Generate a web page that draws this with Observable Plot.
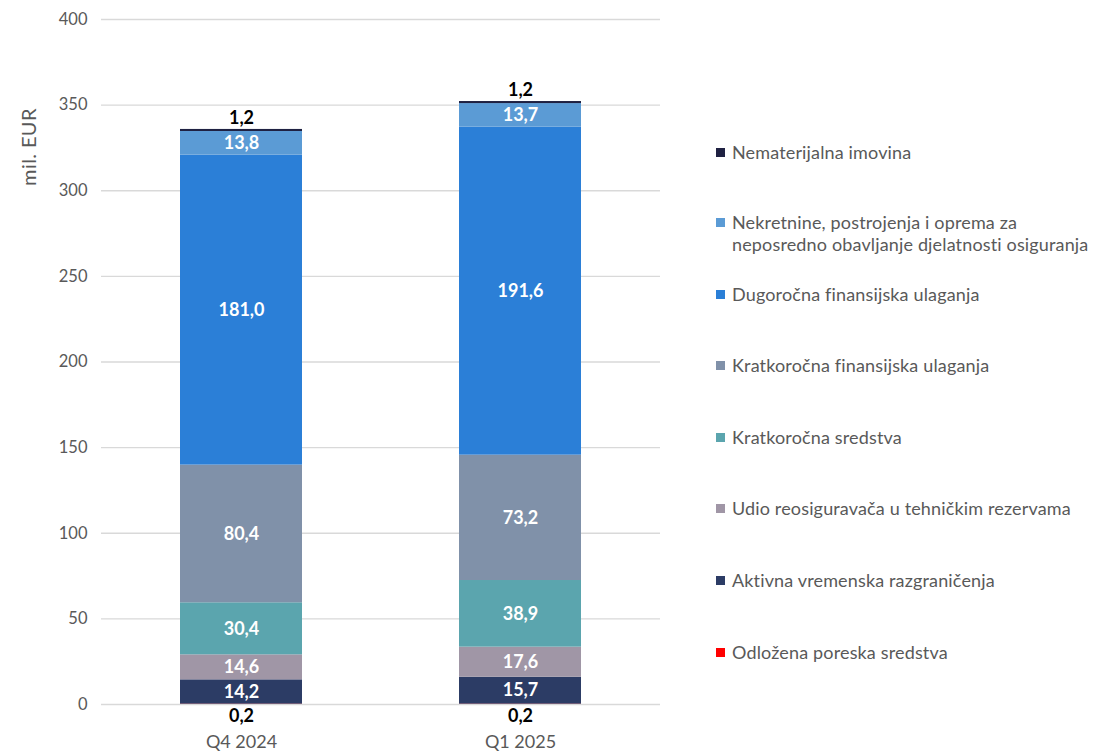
<!DOCTYPE html>
<html>
<head>
<meta charset="utf-8">
<script src="https://cdn.jsdelivr.net/npm/d3@7"></script>
<script src="https://cdn.jsdelivr.net/npm/@observablehq/plot@0.6"></script>
<style>
  html, body { margin: 0; padding: 0; background: #fff; }
  body { width: 1101px; height: 753px; position: relative; overflow: hidden; font-family: Lato, "Open Sans", sans-serif; }
  #chart { position: absolute; left: 0; top: 0; }
  #ylabel { position: absolute; left: 28px; top: 147px; transform: translate(-50%, -50%) rotate(-90deg); color: #595959; font-size: 20px; letter-spacing: 0.4px; white-space: nowrap; }
  #legend { position: absolute; left: 716px; top: 0; }
  .item { position: absolute; left: 0; display: flex; align-items: flex-start; color: #595959; font-size: 18px; letter-spacing: 0.15px; line-height: 22px; white-space: nowrap; }
  .sw { width: 9px; height: 9px; margin-top: 7px; margin-right: 7px; flex: none; }
</style>
</head>
<body>
<div id="chart"></div>
<div id="ylabel">mil. EUR</div>
<div id="legend"></div>
<script>
const quarters = ["Q4 2024", "Q1 2025"];
// bottom to top
const seriesNames = [
  "Odložena poreska sredstva",
  "Aktivna vremenska razgraničenja",
  "Udio reosiguravača u tehničkim rezervama",
  "Kratkoročna sredstva",
  "Kratkoročna finansijska ulaganja",
  "Dugoročna finansijska ulaganja",
  "Nekretnine, postrojenja i oprema za neposredno obavljanje djelatnosti osiguranja",
  "Nematerijalna imovina"
];
const seriesColors = ["#ff0000", "#2c3c65", "#a096a6", "#5ba5ae", "#8091a9", "#2b7fd7", "#5b9bd5", "#1f2142"];
const valuesQ4 = [0.2, 14.2, 14.6, 30.4, 80.4, 181.0, 13.8, 1.2];
const valuesQ1 = [0.2, 15.7, 17.6, 38.9, 73.2, 191.6, 13.7, 1.2];
const yTicks = [0, 50, 100, 150, 200, 250, 300, 350, 400];
const legendLines = [
  ["Nematerijalna imovina"],
  ["Nekretnine, postrojenja i oprema za", "neposredno obavljanje djelatnosti osiguranja"],
  ["Dugoročna finansijska ulaganja"],
  ["Kratkoročna finansijska ulaganja"],
  ["Kratkoročna sredstva"],
  ["Udio reosiguravača u tehničkim rezervama"],
  ["Aktivna vremenska razgraničenja"],
  ["Odložena poreska sredstva"]
];

const rows = [];
[valuesQ4, valuesQ1].forEach((vals, qi) => {
  vals.forEach((v, si) => rows.push({quarter: quarters[qi], series: seriesNames[si], value: v}));
});
const fmt = v => v.toFixed(1).replace(".", ",");
const topName = seriesNames[seriesNames.length - 1];
const bottomName = seriesNames[0];

const chart = Plot.plot({
  width: 680,
  height: 753,
  marginLeft: 101,
  marginRight: 20,
  marginTop: 19,
  marginBottom: 49,
  style: {fontFamily: "Lato, 'Open Sans', sans-serif", fontSize: "16.5px", color: "#595959", background: "transparent"},
  x: {domain: quarters, paddingInner: 0.563, paddingOuter: 0.28, label: null},
  y: {domain: [0, 400], ticks: yTicks, label: null, tickSize: 0, tickPadding: 14},
  color: {domain: seriesNames, range: seriesColors},
  marks: [
    Plot.gridY(yTicks, {stroke: "#d9d9d9", strokeOpacity: 1, strokeWidth: 1.3}),
    Plot.axisX({tickSize: 0, tickPadding: 31, fontSize: 18, label: null}),
    Plot.barY(rows, {x: "quarter", y: "value", fill: "series", order: seriesNames}),
    Plot.text(rows, Plot.stackY({x: "quarter", y: "value", z: "series", order: seriesNames,
      text: d => d.value >= 5 ? fmt(d.value) : null,
      fill: "white", fontWeight: "bold", fontSize: 18})),
    Plot.text(rows, Plot.stackY2({x: "quarter", y: "value", z: "series", order: seriesNames,
      text: d => d.series === topName ? fmt(d.value) : null,
      fill: "black", fontWeight: "bold", fontSize: 18, dy: -11})),
    Plot.text(rows, Plot.stackY1({x: "quarter", y: "value", z: "series", order: seriesNames,
      text: d => d.series === bottomName ? fmt(d.value) : null,
      fill: "black", fontWeight: "bold", fontSize: 18, dy: 12}))
  ]
});
document.getElementById("chart").appendChild(chart);

const legend = document.getElementById("legend");
const legendTops = [141, 211, 283, 354, 426, 497, 569, 641];
legendLines.forEach((lines, i) => {
  const name = seriesNames[seriesNames.length - 1 - i];
  const color = seriesColors[seriesNames.indexOf(name)];
  const div = document.createElement("div");
  div.className = "item";
  div.style.top = legendTops[i] + "px";
  const sw = document.createElement("div");
  sw.className = "sw";
  sw.style.background = color;
  const txt = document.createElement("div");
  txt.innerHTML = lines.join("<br>");
  div.appendChild(sw);
  div.appendChild(txt);
  legend.appendChild(div);
});
</script>
</body>
</html>
